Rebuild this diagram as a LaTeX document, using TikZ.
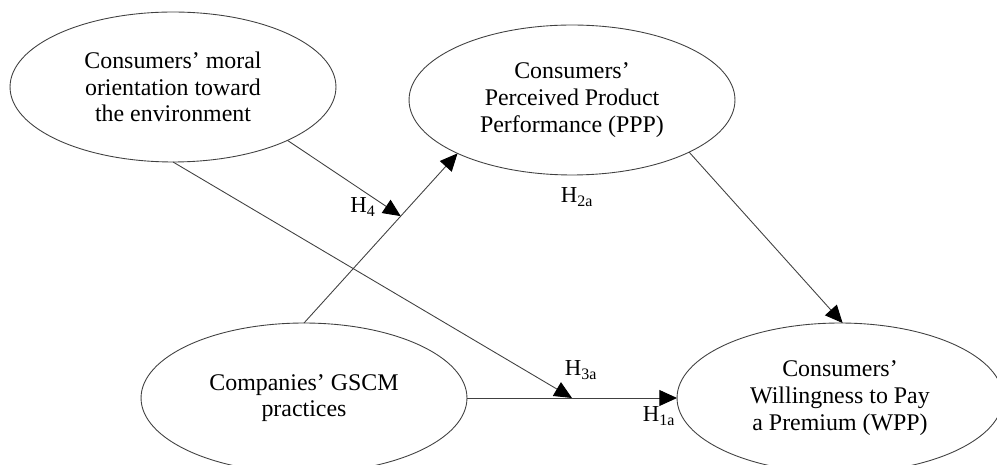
\documentclass[tikz,border=0pt]{standalone}
\usepackage{fontspec}
\setmainfont{Liberation Serif}
\usetikzlibrary{shapes.geometric,arrows.meta,calc}
\begin{document}
\begin{tikzpicture}[x=0.02cm, y=-0.02cm, font=\fontsize{13.6}{15.2}\selectfont, line join=round, >={Triangle[length=10pt,width=9pt,color=black]},
	construct/.style={ellipse, draw=black!75, line width=0.5pt, minimum width=6.52cm, minimum height=3cm, align=center, inner sep=0pt, outer sep=0pt},
	path/.style={draw=black!75, line width=0.5pt, ->},
	hyp/.style={font=\fontsize{13}{15}\selectfont, inner sep=1pt}]
	\useasboundingbox (0,0) rectangle (997,465);
	% constructs
	\node[construct] (moral) at (173,87) {Consumers' moral\\orientation toward\\the environment};
	\node[construct] (ppp) at (572,100) {Consumers'\\Perceived Product\\Performance (PPP)};
	\node[construct] (gscm) at (304,398) {Companies' GSCM\\practices};
	\node[construct] (wpp) at (840,398) {Consumers'\\Willingness to Pay\\a Premium (WPP)};
	% paths
	\draw[path] (gscm.north) -- (ppp.205);
	\draw[path] (gscm.east) -- (wpp.west);
	\draw[path] (ppp.-24) -- (wpp.88);
	\coordinate (mod4) at ($(gscm.north)!0.63!(ppp.205)$);
	\coordinate (mod3) at ($(gscm.east)!0.5!(wpp.west)$);
	\draw[path] (moral.-25) -- (mod4);
	\draw[path] (moral.south) -- (mod3);
	% hypotheses
	\node[hyp] (h4) at (363,207) {H\textsubscript{4}};
	\node[hyp] (h2a) at (577,197) {H\textsubscript{2a}};
	\node[hyp] (h3a) at (581,370) {H\textsubscript{3a}};
	\node[hyp] (h1a) at (659,416) {H\textsubscript{1a}};
\end{tikzpicture}
\end{document}
